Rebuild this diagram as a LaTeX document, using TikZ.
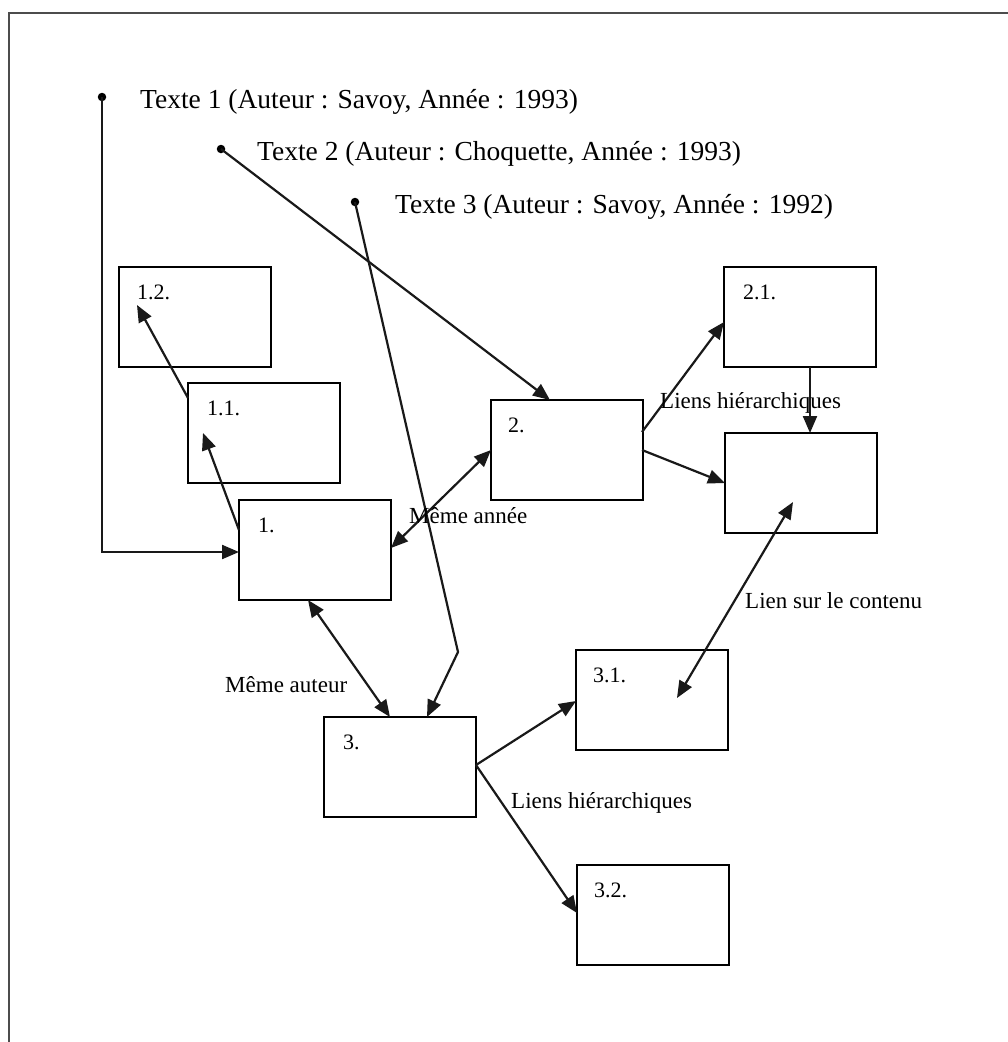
\documentclass[tikz,border=0pt]{standalone}
\usepackage{fontspec}
\setmainfont{Liberation Serif}
\usetikzlibrary{arrows.meta,calc}
\begin{document}
\begin{tikzpicture}[x=1pt,y=-1pt,
  >={Triangle[length=17pt,width=14pt]},
  box/.style={draw, line width=2.3pt, minimum width=152pt, minimum height=100pt, anchor=north west, inner sep=0pt, outer sep=0pt},
  num/.style={anchor=base west, inner sep=0pt, font=\fontsize{22}{26}\selectfont},
  lbl/.style={anchor=base west, inner sep=0pt, font=\fontsize{23}{27}\selectfont},
  title/.style={anchor=base west, inner sep=0pt, font=\fontsize{27.5}{31}\selectfont},
  dot/.style={circle, fill, inner sep=0pt, minimum size=8.5pt},
  link/.style={line width=2.2pt, black!90},
]
\useasboundingbox (0,0) rectangle (1008,1042);
\fill[white] (0,0) rectangle (1008,1042);
\draw[line width=1.8pt, black!70] (9,1042) -- (9,13) -- (1008,13);

% titles
\node[dot] (d1) at (102,97) {};
\node[title] (t1) at (140,108) {Texte 1 (Auteur : Savoy, Année : 1993)};
\node[dot] (d2) at (221,149) {};
\node[title] (t2) at (257,160) {Texte 2 (Auteur : Choquette, Année : 1993)};
\node[dot] (d3) at (355,202) {};
\node[title] (t3) at (395,213) {Texte 3 (Auteur : Savoy, Année : 1992)};

% boxes
\node[box] (b12) at (119,267) {};
\node[box] (b11) at (188,383) {};
\node[box] (b1)  at (239,500) {};
\node[box] (b2)  at (491,400) {};
\node[box] (b21) at (724,267) {};
\node[box] (b22) at (725,433) {};
\node[box] (b3)  at (324,717) {};
\node[box] (b31) at (576,650) {};
\node[box] (b32) at (577,865) {};

\node[num] (n12) at ($(b12.north west)+(18,32)$) {1.2.};
\node[num] (n11) at ($(b11.north west)+(19,32)$) {1.1.};
\node[num] (n1)  at ($(b1.north west)+(19,32)$) {1.};
\node[num] (n2)  at ($(b2.north west)+(17,32)$) {2.};
\node[num] (n21) at ($(b21.north west)+(19,32)$) {2.1.};
\node[num] (n3)  at ($(b3.north west)+(19,32)$) {3.};
\node[num] (n31) at ($(b31.north west)+(17,32)$) {3.1.};
\node[num] (n32) at ($(b32.north west)+(17,32)$) {3.2.};

% connectors
\draw[link,->] (d1.center) |- ($(b1.north west)+(0,52)$);
\draw[link,->] (d2.center) -- ($(b2.north west)+(59,0)$);
\coordinate (bend) at (458,652);
\draw[link,->] (d3.center) -- (bend) -- ($(b3.north west)+(103,0)$);
\draw[link,->] ($(b1.north west)+(0,30)$) -- ($(b11.north west)+(15,50)$);
\draw[link,->] ($(b11.north west)+(0,15)$) -- ($(b12.north west)+(18,38)$);
\draw[link,<->] ($(b1.north west)+(152,48)$) -- ($(b2.north west)+(0,50)$);
\draw[link,->] ($(b2.north west)+(151,32)$) -- ($(b21.north west)+(0,55)$);
\draw[link,->] ($(b2.north west)+(151,50)$) -- ($(b22.north west)+(0,50)$);
\draw[link,->] ($(b21.north west)+(86,100)$) -- ($(b22.north west)+(85,0)$);
\draw[link,<->] ($(b22.north west)+(68,69)$) -- ($(b31.north west)+(101,48)$);
\draw[link,<->] ($(b1.north west)+(69,100)$) -- ($(b3.north west)+(66,0)$);
\draw[link,->] ($(b3.north west)+(152,48)$) -- ($(b31.north west)+(0,51)$);
\draw[link,->] ($(b3.north west)+(152,48)$) -- ($(b32.north west)+(0,48)$);

% labels
\node[lbl] (l1) at (409,523) {Même année};
\node[lbl] (l2) at (660,408) {Liens hiérarchiques};
\node[lbl] (l3) at (745,608) {Lien sur le contenu};
\node[lbl] (l4) at (225,692) {Même auteur};
\node[lbl] (l5) at (511,808) {Liens hiérarchiques};
\end{tikzpicture}
\end{document}
